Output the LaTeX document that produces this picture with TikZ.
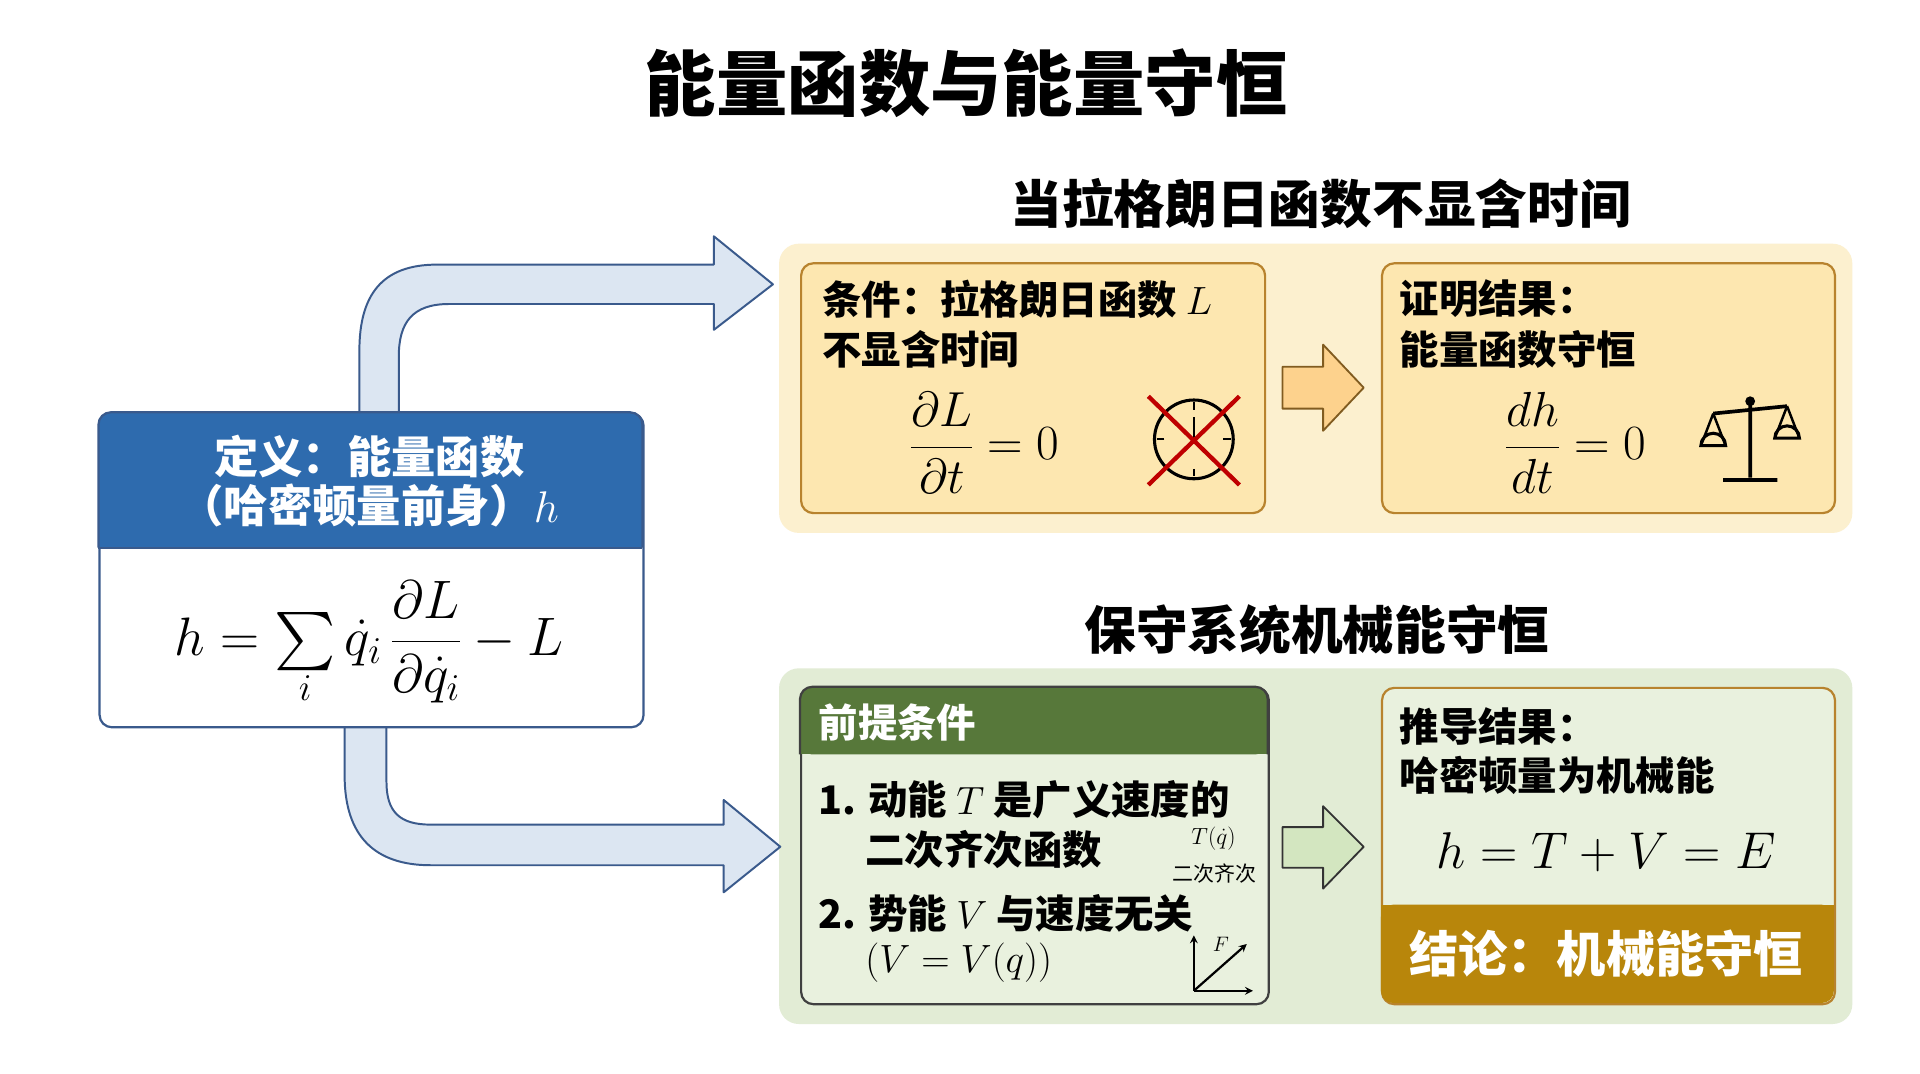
\documentclass[tikz,border=0pt]{standalone}
\usepackage{fix-cm}
\usepackage{amsmath}
\usepackage{graphicx}
\usepackage{fontspec}
\setmainfont{Noto Sans CJK SC}
\newcommand{\bigsum}{\mathop{\vcenter{\hbox{\scalebox{1.9}{$\sum$}}}}\limits}
\begin{document}
\begin{tikzpicture}[x=1pt,y=-1pt,
  box/.style={draw=#1,line width=1.8pt,rounded corners=10pt},
  fs/.style={font=\fontsize{#1}{#1}\selectfont\bfseries},
  lbl/.style={anchor=west,inner sep=0pt},
  flow/.style={draw=flowd,fill=flowf,line width=1.6pt,line join=round}]
\useasboundingbox (0,0) rectangle (1560,872);
\fill[white] (0,0) rectangle (1560,872);
\definecolor{ybrd}{HTML}{B8832E}\definecolor{yfill}{HTML}{FDE7B0}\definecolor{ypan}{HTML}{FCF0CF}
\definecolor{gpan}{HTML}{E2ECD5}\definecolor{gbox}{HTML}{E9F1DE}\definecolor{ghead}{HTML}{57783A}
\definecolor{bhead}{HTML}{2E6BAE}\definecolor{band}{HTML}{B8860B}
\definecolor{flowd}{HTML}{3A5A8C}\definecolor{flowf}{HTML}{DCE6F2}\definecolor{garr}{HTML}{D3E6C0}
% titles
\node[fs=58] (title) at (785,68) {能量函数与能量守恒};
\node[fs=42] (sub1) at (1073,165) {当拉格朗日函数不显含时间};
\node[fs=42] (sub2) at (1070,512) {保守系统机械能守恒};
% panels
\fill[ypan,rounded corners=16pt] (633,198) rectangle (1505,433);
\fill[gpan,rounded corners=16pt] (633,543) rectangle (1505,832);
% flow arrows
\draw[flow] (292,336) -- (292,285) .. controls (292,240) and (310,215) .. (355,215) -- (580,215) -- (580,192) -- (628,231) -- (580,268) -- (580,247) -- (365,247) .. controls (335,247) and (324,262) .. (324,290) -- (324,336);
\draw[flow] (280,589) -- (280,630) .. controls (280,680) and (305,703) .. (350,703) -- (588,703) -- (588,725) -- (634,688) -- (588,650) -- (588,670) -- (350,670) .. controls (325,670) and (314,660) .. (314,635) -- (314,589);
% blue box
\node[box=flowd,fill=white,minimum width=442pt,minimum height=255pt,anchor=north west] (def) at (80,335) {};
\fill[bhead,rounded corners=10pt] (80,335) rectangle (522,445);
\fill[bhead] (80,400) rectangle (522,445);
\draw[flowd,line width=1.8pt,rounded corners=10pt] (80,445) -- (80,335) -- (522,335) -- (522,445);
\draw[flowd,line width=1.8pt] (80,445) -- (522,445);
\node[fs=36,white,align=center] (defh) at (300,391) {定义：能量函数\\[4pt]（哈密顿量前身）$h$};
\node (hdef) at (300,522) {\fontsize{44}{52}\selectfont $h=\displaystyle\bigsum_i \dot q_i\,\frac{\partial L}{\partial \dot q_i}-L$};
% yellow boxes
\node[box=ybrd,fill=yfill,minimum width=377pt,minimum height=203pt,anchor=north west] (cond) at (650,213) {};
\node[box=ybrd,fill=yfill,minimum width=368pt,minimum height=203pt,anchor=north west] (res) at (1122,213) {};
\node[fs=32,lbl] (c1) at (668,243) {条件：拉格朗日函数 $L$};
\node[fs=32,lbl] (c2) at (668,284) {不显含时间};
\node (c3) at (800,360) {\fontsize{40}{48}\selectfont $\dfrac{\partial L}{\partial t}=0$};
\node[fs=32,lbl] (r1) at (1137,243) {证明结果：};
\node[fs=32,lbl] (r2) at (1137,284) {能量函数守恒};
\node (r3) at (1280,360) {\fontsize{40}{48}\selectfont $\dfrac{dh}{dt}=0$};
% clock icon
\node[circle,draw,line width=2.5pt,minimum size=64pt] (clock) at (970,357) {};
\foreach \a in {0,90,180,270} \draw[line width=1.5pt] (clock.center) ++(\a:24) -- ++(\a:6);
\draw[line width=1.6pt] (clock.center) -- ++(0,-18);
\draw[red!75!black,line width=3.5pt] (933,322) -- (1007,394) (1007,322) -- (933,394);
% scales
\draw[line width=3pt] (1422,325) -- (1422,388) (1400,390) -- (1444,390) (1392,336) -- (1452,330);
\fill (1422,326) circle (4);
\draw[line width=2pt] (1392,336) -- (1382,362) (1392,336) -- (1402,362) (1452,330) -- (1442,356) (1452,330) -- (1462,356);
\draw[line width=2.5pt] (1382,362) arc (180:360:10) -- cycle;
\draw[line width=2.5pt] (1442,356) arc (180:360:10) -- cycle;
% yellow arrow
\draw[fill=yfill!80!orange,draw=ybrd!70!black,line width=1.5pt,line join=round] (1042,298) -- (1075,298) -- (1075,280) -- (1108,315) -- (1075,350) -- (1075,332) -- (1042,332) -- cycle;
% green boxes
\node[box=black!75,fill=gbox,minimum width=380pt,minimum height=257pt,anchor=north west] (pre) at (650,558) {};
\fill[ghead,rounded corners=10pt] (650,558) rectangle (1030,613);
\fill[ghead] (650,590) rectangle (1030,613);
\draw[black!75,line width=1.8pt,rounded corners=10pt] (650,613) -- (650,558) -- (1030,558) -- (1030,613);
\node[fs=32,lbl,white] (preh) at (665,587) {前提条件};
\node[fs=32,lbl] (p1) at (665,650) {1. 动能 $T$ 是广义速度的};
\node[fs=32,lbl] (p2) at (703,690) {二次齐次函数};
\node[fs=32,lbl] (p3) at (665,742) {2. 势能 $V$ 与速度无关};
\node[fs=32,lbl] (p4) at (703,782) {$(V=V(q))$};
\node[font=\fontsize{19}{22}\selectfont,inner sep=0pt] (tq) at (986,681) {$T(\dot q)$};
\node[font=\fontsize{17}{17}\selectfont,inner sep=0pt] (eq) at (987,710) {二次齐次};
\draw[line width=1.8pt,-stealth] (970,805) -- (970,760);
\draw[line width=1.8pt,-stealth] (970,805) -- (1018,805);
\draw[line width=1.8pt,-stealth] (970,805) -- (1013,767);
\node[font=\fontsize{17}{20}\selectfont] (F) at (992,767) {$F$};
% green arrow
\draw[fill=garr,draw=black!80,line width=1.5pt,line join=round] (1042,672) -- (1075,672) -- (1075,655) -- (1108,688) -- (1075,722) -- (1075,705) -- (1042,705) -- cycle;
% result box
\node[box=ybrd,fill=gbox,minimum width=368pt,minimum height=257pt,anchor=north west] (der) at (1122,558) {};
\fill[band,rounded corners=10pt] (1122,735) rectangle (1490,815);
\fill[band] (1122,735) rectangle (1490,760);
\node[fs=32,lbl] (d1) at (1137,590) {推导结果：};
\node[fs=32,lbl] (d2) at (1137,630) {哈密顿量为机械能};
\node (d3) at (1305,692) {\fontsize{42}{50}\selectfont $h=T+V=E$};
\node[fs=40,white] (d4) at (1305,775) {结论：机械能守恒};
\end{tikzpicture}
\end{document}
